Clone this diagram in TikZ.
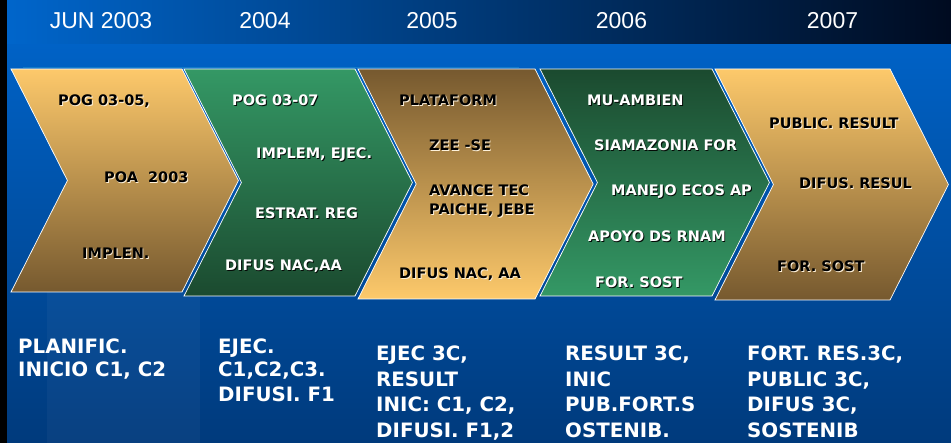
\documentclass[tikz,border=0pt]{standalone}
\usepackage{fontspec}
\setmainfont{DejaVu Sans}
\newfontfamily\yrfont{Liberation Sans}

\definecolor{goldL}{HTML}{FDC96B}
\definecolor{goldD}{HTML}{76592F}
\definecolor{greenL}{HTML}{349865}
\definecolor{greenD}{HTML}{1B4A2F}
\definecolor{bandL}{HTML}{0066CC}
\definecolor{bandM}{HTML}{004A9C}
\definecolor{bandR}{HTML}{000B20}
\definecolor{bodyT}{HTML}{0062C6}
\definecolor{bodyB}{HTML}{003A7C}

\newcommand{\shd}[2]{\leavevmode\rlap{\kern.9pt\raisebox{-.9pt}{\color{#1}#2}}#2}
\newcommand{\txtB}[1]{\shd{white!75!goldL}{#1}}
\newcommand{\txtW}[1]{\shd{black!85!greenD}{#1}}

\begin{document}
\begin{tikzpicture}[x=1pt, y=-1pt]
        \tikzstyle{yr}=[text=white, font=\yrfont\fontsize{23}{25}\selectfont, anchor=base];
        \tikzstyle{dk}=[font=\fontsize{14.5}{19}\selectfont\bfseries, anchor=base west, inner sep=0];
        \tikzstyle{lt}=[dk, text=white];
        \tikzstyle{low}=[font=\fontsize{19.8}{25.5}\selectfont\bfseries, text=white, anchor=north west, inner sep=0, align=left];

        \useasboundingbox (0,0) rectangle (951,443);
        \shade[top color=bodyT, bottom color=bodyB] (0,44) rectangle (951,443);
        \shade[left color=bandL, middle color=bandM, right color=bandR] (0,0) rectangle (951,44);
        \fill[white, opacity=.035] (47,292) rectangle (200,443);
        \fill[black] (0,0) rectangle (7,443);
        \draw[cyan!60!blue, line width=1.5pt] (23,67.5) -- (519,67.5);

        \foreach \x/\w/\b/\ct/\cb in {11/171/292/goldL/goldD, 184/171/296/greenL/greenD, 358/177/299/goldD/goldL, 540/172/296/greenD/greenL, 715/175/300/goldL/goldD}
          \shade[top color=\ct, bottom color=\cb, draw=white, line width=.7pt]
            (\x,69) -- ++(\w,0) -- ++({(\b-69)*.253},{(\b-69)/2}) -- ++({-(\b-69)*.253},{(\b-69)/2})
            -- ++(-\w,0) -- ++({(\b-69)*.253},{-(\b-69)/2}) -- cycle;

        \node[yr] (y03) at (101,29) {JUN 2003};
        \node[yr] (y04) at (265,29) {2004};
        \node[yr] (y05) at (432,29) {2005};
        \node[yr] (y06) at (621.5,29) {2006};
        \node[yr] (y07) at (832.5,29) {2007};

        \node[dk] (pog1) at (58,105.3) {\txtB{POG 03-05,}};
        \node[dk] (poa1) at (104,182.3) {\txtB{POA\ \ 2003}};
        \node[dk] (imp1) at (82,258.3) {\txtB{IMPLEN.}};

        \node[lt] (pog2) at (232,105.3) {\txtW{POG 03-07}};
        \node[lt] (imp2) at (256,158.3) {\txtW{IMPLEM, EJEC.}};
        \node[lt] (est2) at (255,218.3) {\txtW{ESTRAT. REG}};
        \node[lt] (dif2) at (225,270.3) {\txtW{DIFUS NAC,AA}};

        \node[dk] (pla3) at (399,105.3) {\txtB{PLATAFORM}};
        \node[dk] (zee3) at (429,150.3) {\txtB{ZEE -SE}};
        \node[dk] (ava3) at (429,195.3) {\txtB{AVANCE TEC}};
        \node[dk] (pai3) at (429,214.3) {\txtB{PAICHE, JEBE}};
        \node[dk] (dif3) at (399,278.3) {\txtB{DIFUS NAC, AA}};

        \node[lt] (mu4) at (587,105.3) {\txtW{MU-AMBIEN}};
        \node[lt] (sia4) at (594,150.3) {\txtW{SIAMAZONIA FOR}};
        \node[lt] (man4) at (611,195.3) {\txtW{MANEJO ECOS AP}};
        \node[lt] (apo4) at (588,241.3) {\txtW{APOYO DS RNAM}};
        \node[lt] (for4) at (595,287.3) {\txtW{FOR. SOST}};

        \node[dk] (pub5) at (769,128.3) {\txtB{PUBLIC. RESULT}};
        \node[dk] (dif5) at (799,188.3) {\txtB{DIFUS. RESUL}};
        \node[dk] (for5) at (777,271.3) {\txtB{FOR. SOST}};

        \node[low] (low1) at (18,339) {PLANIFIC.\\[-3pt]INICIO C1, C2};
        \node[low] (low2) at (218,339) {EJEC.\\[-3pt]C1,C2,C3.\\DIFUSI. F1};
        \node[low] (low3) at (376,346) {EJEC 3C,\\RESULT\\INIC: C1, C2,\\DIFUSI. F1,2};
        \node[low] (low4) at (565,346) {RESULT 3C,\\INIC\\PUB.FORT.S\\OSTENIB.};
        \node[low] (low5) at (747,346) {FORT. RES.3C,\\PUBLIC 3C,\\DIFUS 3C,\\SOSTENIB};
      \end{tikzpicture}
\end{document}
